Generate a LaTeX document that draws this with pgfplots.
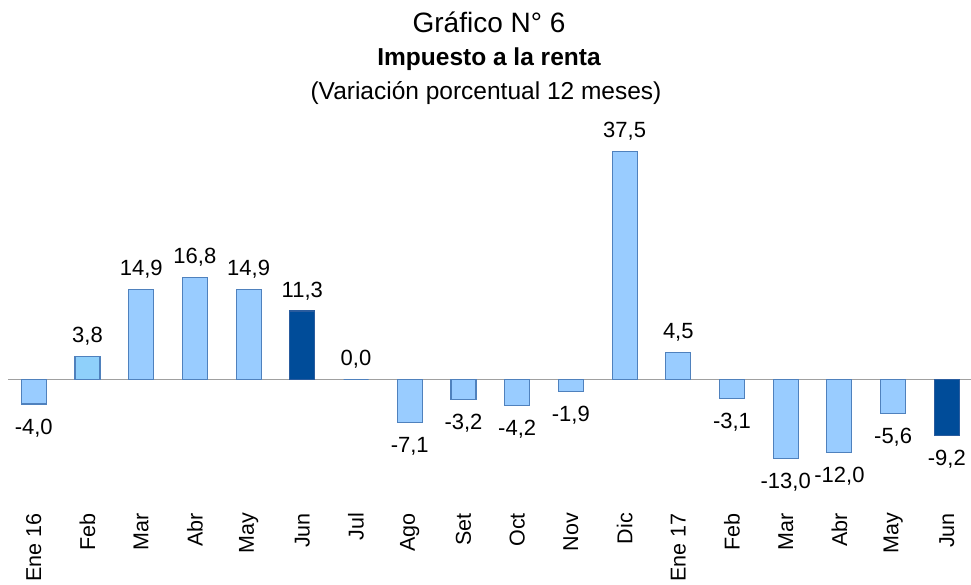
\documentclass[border=0pt]{standalone}
\usepackage{fontspec}
\setmainfont{Liberation Sans}
\usepackage{pgfplots}
\pgfplotsset{compat=1.18}
\definecolor{lightbar}{HTML}{99CCFF}
\definecolor{febbar}{HTML}{8FD0FA}
\definecolor{baredge}{HTML}{4F81BD}
\definecolor{darkbar}{HTML}{004C99}
\definecolor{darkedge}{HTML}{2A5C9E}
\definecolor{zeroline}{HTML}{A0A0A0}
\begin{document}
\begin{tikzpicture}
\useasboundingbox (-8pt,-108pt) rectangle (963pt,477pt);
\begin{axis}[
  at={(0pt,0pt)}, anchor=south west,
  scale only axis, width=963pt, height=364.8pt,
  xmin=-0.48, xmax=17.45, ymin=-16, ymax=44,
  axis line style={draw=none}, ytick=\empty,
  xtick={0,...,17},
  xticklabels={Ene 16,Feb,Mar,Abr,May,Jun,Jul,Ago,Set,Oct,Nov,Dic,Ene 17,Feb,Mar,Abr,May,Jun},
  major tick length=0pt,
  xticklabel style={rotate=90, anchor=east, inner sep=0pt, font=\fontsize{21.5}{25}\selectfont, xshift=-36pt},
  extra y ticks={0}, extra y tick labels={},
  extra y tick style={grid=major, major grid style={zeroline, line width=1.2pt}},
  ybar, bar width=25pt,
  nodes near coords={\pgfmathprintnumber[fixed,fixed zerofill,precision=1,use comma,assume math mode=true]{\pgfplotspointmeta}},
  visualization depends on={rawy \as \rawy},
  every node near coord/.append style={anchor=base, inner sep=0pt, font=\fontsize{22}{26}\selectfont, yshift={(\rawy<0)*(-44)+14}},
  clip=false,
]
\addplot[fill=lightbar, draw=baredge, line width=1.1pt, bar shift=0pt] coordinates {(0,-4.0)(2,14.9)(3,16.8)(4,14.9)(6,0.0)(7,-7.1)(8,-3.2)(9,-4.2)(10,-1.9)(11,37.5)(12,4.5)(13,-3.1)(14,-13.0)(15,-12.0)(16,-5.6)};
\addplot[fill=febbar, draw=baredge, line width=1.1pt, bar shift=0pt] coordinates {(1,3.8)};
\addplot[fill=darkbar, draw=darkedge, line width=1.1pt, bar shift=0pt] coordinates {(5,11.3)(17,-9.2)};
\end{axis}
\node[anchor=base, font=\fontsize{28}{32}\selectfont] at (481pt,444pt) {Gráfico N° 6};
\node[anchor=base, font=\bfseries\fontsize{24.5}{28}\selectfont] at (481pt,411pt) {Impuesto a la renta};
\node[anchor=base, font=\fontsize{24.5}{28}\selectfont] at (478pt,377pt) {(Variación porcentual 12 meses)};
\end{tikzpicture}
\end{document}
